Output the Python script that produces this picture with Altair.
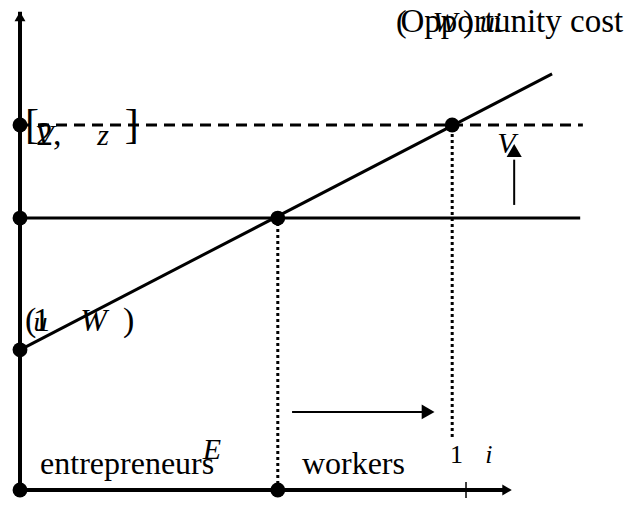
import altair as alt
import pandas as pd

# ---- diagram values (data units: i on x, opportunity cost on y) ----
x_E = 0.578          # share of entrepreneurs
x_W = 0.969          # shifted cutoff
x_one = 1.0
y_low = 0.384        # (1 - W) intercept
y_mid = 0.745        # horizontal level
y_top = 1.0          # [2, z] level
line_end_x = 1.193
line_end_y = 1.140

seg_x = [0, 0, 0, 0, 0, x_E, x_W, 1.108, 0.610, x_one]
seg_y = [0, 0, y_low, y_mid, y_top, 0, 0.145, 0.781, 0.214, -0.022]
seg_x2 = [0, 1.092, line_end_x, 1.256, 1.262, x_E, x_W, 1.108, 0.905, x_one]
seg_y2 = [1.31, 0, line_end_y, y_mid, y_top, y_mid, y_top, 0.905, 0.214, 0.022]
seg_style = ["axis", "axis", "main", "main", "dash", "dot", "dot", "thin", "thin", "tick"]

dot_x = [0, x_E, 0, 0, 0, x_E, x_W]
dot_y = [0, 0, y_top, y_mid, y_low, y_mid, y_top]

head_x = [0, 1.092, 1.108, 0.915]
head_y = [1.297, 0, 0.930, 0.214]
head_shape = ["triangle-up", "triangle-right", "triangle-up", "triangle-right"]
head_size = [120, 120, 230, 220]

txt_label = ["Opportunity cost", "(", "W", ")", "u", "i",
             "[", "2,", "V", "z", "]",
             "(", "1", "W", ")", "u",
             "entrepreneurs", "E", "workers", "1", "i", "V"]
txt_x = [0.853, 0.843, 0.925, 0.993, 1.031, 1.061,
         0.011, 0.036, 0.034, 0.173, 0.235,
         0.011, 0.029, 0.135, 0.231, 0.030,
         0.045, 0.410, 0.632, 0.964, 1.043, 1.070]
txt_y = [1.255, 1.255, 1.255, 1.255, 1.255, 1.255,
         0.965, 0.945, 0.945, 0.945, 0.965,
         0.435, 0.435, 0.435, 0.435, 0.435,
         0.044, 0.085, 0.044, 0.074, 0.074, 0.923]
txt_size = [33, 32, 30, 32, 30, 30,
            42, 34, 30, 30, 42,
            34, 34, 32, 34, 28,
            32, 30, 32, 26, 26, 30]
txt_style = ["normal", "normal", "italic", "normal", "italic", "italic",
             "normal", "normal", "italic", "italic", "normal",
             "normal", "normal", "italic", "normal", "italic",
             "normal", "italic", "normal", "normal", "italic", "italic"]

segs = pd.DataFrame({"x": seg_x, "y": seg_y, "x2": seg_x2, "y2": seg_y2, "style": seg_style})
dots = pd.DataFrame({"x": dot_x, "y": dot_y})
heads = pd.DataFrame({"x": head_x, "y": head_y, "shape": head_shape, "size": head_size})
texts = pd.DataFrame({"label": txt_label, "x": txt_x, "y": txt_y, "size": txt_size, "fstyle": txt_style})

xs = alt.Scale(domain=[-0.02691, 1.3632], nice=False, zero=False)
ys = alt.Scale(domain=[-0.0219, 1.3205], nice=False, zero=False)

def seg_layer(style, width, dash=None):
    kw = dict(color="black", strokeWidth=width, strokeCap="butt")
    if dash:
        kw["strokeDash"] = dash
    return alt.Chart(segs).transform_filter(alt.datum.style == style).mark_rule(**kw).encode(
        x=alt.X("x:Q", scale=xs, axis=None),
        y=alt.Y("y:Q", scale=ys, axis=None),
        x2="x2:Q", y2="y2:Q")

layers = [
    seg_layer("axis", 4),
    seg_layer("main", 3),
    seg_layer("dash", 3, [11, 7]),
    seg_layer("dot", 3, [3, 3]),
    seg_layer("thin", 2),
    seg_layer("tick", 1.5),
]

dot_layer = alt.Chart(dots).mark_circle(color="black", opacity=1, size=220).encode(
    x=alt.X("x:Q", scale=xs, axis=None), y=alt.Y("y:Q", scale=ys, axis=None))

head_layer = alt.Chart(heads).mark_point(filled=True, color="black", opacity=1).encode(
    x=alt.X("x:Q", scale=xs, axis=None), y=alt.Y("y:Q", scale=ys, axis=None),
    shape=alt.Shape("shape:N", scale=None),
    size=alt.Size("size:Q", scale=None))

def text_layer(style):
    return alt.Chart(texts).transform_filter(alt.datum.fstyle == style).mark_text(
        font="Liberation Serif", align="left", baseline="alphabetic",
        color="black", fontStyle=style).encode(
        x=alt.X("x:Q", scale=xs, axis=None), y=alt.Y("y:Q", scale=ys, axis=None),
        text="label:N",
        size=alt.Size("size:Q", scale=None))

chart = alt.layer(*layers, dot_layer, head_layer, text_layer("normal"), text_layer("italic")).properties(
    width=620, height=490, autosize="none", padding=0
).configure_view(stroke=None)

chart.save("out.html", embed_options={"renderer": "svg", "actions": False})
